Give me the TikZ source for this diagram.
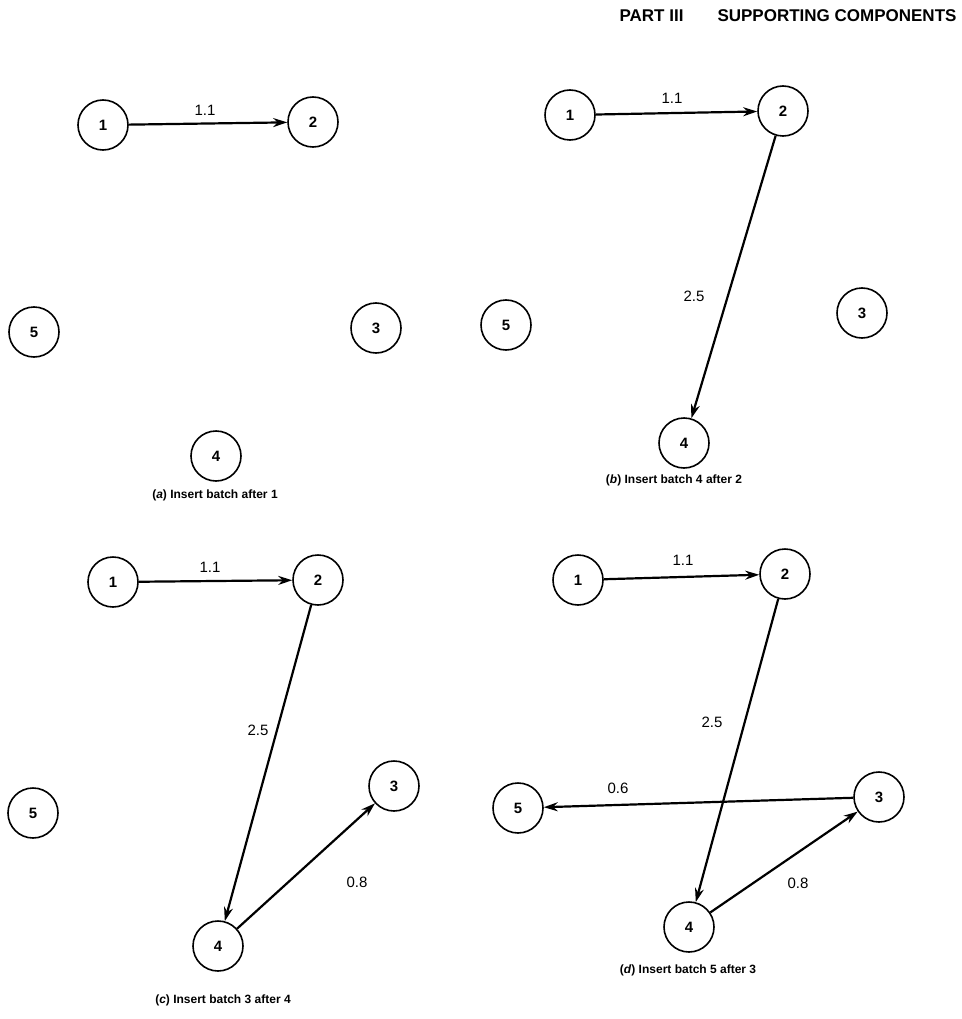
\documentclass[tikz,border=0pt]{standalone}
\usepackage{fontspec}
\setmainfont{Liberation Sans}
\usetikzlibrary{arrows.meta}
\begin{document}
\begin{tikzpicture}[x=1pt,y=-1pt,
  vnode/.style={circle,draw,line width=1.6pt,minimum size=50pt,inner sep=0pt,font=\fontsize{15}{15}\selectfont\bfseries},
  edge/.style={line width=2.2pt,-{Stealth[length=14pt,width=9pt]}},
  elabel/.style={font=\fontsize{15}{15}\selectfont},
  caption/.style={font=\fontsize{12}{12}\selectfont\bfseries},
  header/.style={font=\fontsize{17}{17}\selectfont\bfseries,anchor=east}]
\useasboundingbox (0,0) rectangle (961,1019);
\node[header] (hdr) at (960,16) {PART III\hspace{34pt}SUPPORTING COMPONENTS};
% panel a
\node[vnode] (a1) at (103,125) {1};
\node[vnode] (a2) at (313,122) {2};
\node[vnode] (a5) at (34,332) {5};
\node[vnode] (a3) at (376,328) {3};
\node[vnode] (a4) at (216,456) {4};
\draw[edge] (a1) -- (a2);
\node[elabel] (la12) at (205,110) {1.1};
\node[caption] (capa) at (215,495) {(\textit{a}) Insert batch after 1};
% panel b
\node[vnode] (b1) at (570,115) {1};
\node[vnode] (b2) at (783,111) {2};
\node[vnode] (b5) at (506,325) {5};
\node[vnode] (b3) at (862,313) {3};
\node[vnode] (b4) at (684,443) {4};
\draw[edge] (b1) -- (b2);
\draw[edge] (b2) -- (b4);
\node[elabel] (lb12) at (672,98) {1.1};
\node[elabel] (lb24) at (694,296) {2.5};
\node[caption] (capb) at (674,480) {(\textit{b}) Insert batch 4 after 2};
% panel c
\node[vnode] (c1) at (113,582) {1};
\node[vnode] (c2) at (318,580) {2};
\node[vnode] (c5) at (33,813) {5};
\node[vnode] (c3) at (394,786) {3};
\node[vnode] (c4) at (218,946) {4};
\draw[edge] (c1) -- (c2);
\draw[edge] (c2) -- (c4);
\draw[edge] (c4) -- (c3);
\node[elabel] (lc12) at (210,567) {1.1};
\node[elabel] (lc24) at (258,730) {2.5};
\node[elabel] (lc43) at (357,882) {0.8};
\node[caption] (capc) at (223,1000) {(\textit{c}) Insert batch 3 after 4};
% panel d
\node[vnode] (d1) at (578,580) {1};
\node[vnode] (d2) at (785,574) {2};
\node[vnode] (d5) at (518,808) {5};
\node[vnode] (d3) at (879,797) {3};
\node[vnode] (d4) at (689,927) {4};
\draw[edge] (d1) -- (d2);
\draw[edge] (d2) -- (d4);
\draw[edge] (d4) -- (d3);
\draw[edge] (d3) -- (d5);
\node[elabel] (ld12) at (683,560) {1.1};
\node[elabel] (ld24) at (712,722) {2.5};
\node[elabel] (ld35) at (618,788) {0.6};
\node[elabel] (ld43) at (798,883) {0.8};
\node[caption] (capd) at (688,970) {(\textit{d}) Insert batch 5 after 3};
\end{tikzpicture}
\end{document}
